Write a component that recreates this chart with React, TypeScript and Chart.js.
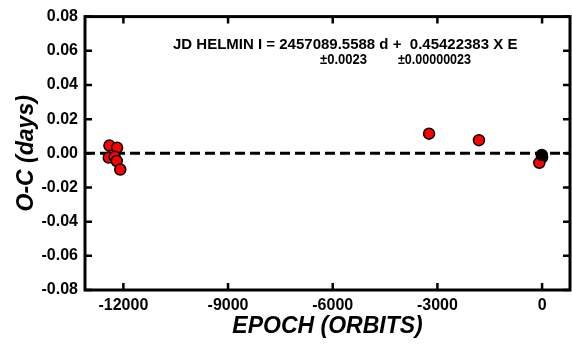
import React, { useEffect, useRef } from "react";
import { Chart, registerables } from "chart.js";

Chart.register(...registerables);

const redEpoch = [-12400, -12180, -12420, -12250, -12190, -12090, -3240, -1810, 0, -80];
const redOC = [0.0045, 0.0033, -0.0025, -0.002, -0.0045, -0.0095, 0.0115, 0.0077, -0.0023, -0.0056];
const blackEpoch = [-10];
const blackOC = [-0.001];
const xTicks = [-12000, -9000, -6000, -3000, 0];
const yTicks = [-0.08, -0.06, -0.04, -0.02, 0, 0.02, 0.04, 0.06, 0.08];
const xRange = [-13100, 800];
const yRange = [-0.08, 0.08];
const line1 = "JD HELMIN I = 2457089.5588 d +  0.45422383 X E";
const line2a = "±0.0023";
const line2b = "±0.00000023";
const xTitle = "EPOCH (ORBITS)";
const yTitle = "O-C (days)";

const FONT = "'Liberation Sans', Arial, Helvetica, sans-serif";

const framePlugin = {
  id: "frame",
  afterDatasetsDraw(chart: any) {
    const { ctx, chartArea: a, scales } = chart;
    ctx.save();
    ctx.strokeStyle = "#000";
    ctx.lineWidth = 3;
    ctx.strokeRect(a.left, a.top, a.right - a.left, a.bottom - a.top);
    ctx.lineWidth = 2.5;
    const tl = 7;
    ctx.beginPath();
    for (const v of xTicks) {
      const px = scales.x.getPixelForValue(v);
      ctx.moveTo(px, a.bottom);
      ctx.lineTo(px, a.bottom - tl);
      ctx.moveTo(px, a.top);
      ctx.lineTo(px, a.top + tl);
    }
    for (const v of yTicks) {
      const py = scales.y.getPixelForValue(v);
      ctx.moveTo(a.left, py);
      ctx.lineTo(a.left + tl, py);
      ctx.moveTo(a.right, py);
      ctx.lineTo(a.right - tl, py);
    }
    ctx.stroke();
    ctx.fillStyle = "#000";
    // x tick labels
    ctx.font = `bold 16px ${FONT}`;
    ctx.textAlign = "center";
    ctx.textBaseline = "middle";
    for (const v of xTicks) {
      ctx.fillText(String(v), scales.x.getPixelForValue(v), a.bottom + 15.5);
    }
    // annotation
    ctx.textBaseline = "alphabetic";
    ctx.textAlign = "left";
    ctx.font = `bold 15px ${FONT}`;
    ctx.fillText(line1, a.left + 88, a.top + 32, 345);
    ctx.font = `bold 14.5px ${FONT}`;
    ctx.fillText(line2a, a.left + 235, a.top + 47, 47);
    ctx.fillText(line2b, a.left + 313, a.top + 47, 73);
    ctx.restore();
  },
};

export default function App() {
  const ref = useRef<HTMLCanvasElement>(null);
  useEffect(() => {
    if (!ref.current) return;
    const chart = new Chart(ref.current, {
      type: "scatter",
      data: {
        datasets: [
          {
            data: blackEpoch.map((x, i) => ({ x, y: blackOC[i] })),
            backgroundColor: "#000",
            borderColor: "#000",
            borderWidth: 1.5,
            pointRadius: 5.5,
          },
          {
            data: redEpoch.map((x, i) => ({ x, y: redOC[i] })),
            backgroundColor: "#ff0000",
            borderColor: "#000",
            borderWidth: 1.5,
            pointRadius: 5.5,
          },
          {
            type: "line",
            data: [
              { x: xRange[0], y: 0 },
              { x: xRange[1], y: 0 },
            ],
            borderColor: "#000",
            borderWidth: 3,
            borderDash: [10, 5],
            pointRadius: 0,
            showLine: true,
          } as any,
        ],
      },
      options: {
        animation: false,
        responsive: false,
        maintainAspectRatio: false,
        layout: { autoPadding: false, padding: { left: 0, right: 2, top: 15, bottom: 0 } },
        plugins: { legend: { display: false }, tooltip: { enabled: false } },
        scales: {
          x: {
            type: "linear",
            min: xRange[0],
            max: xRange[1],
            grid: { display: false, drawTicks: false },
            border: { display: false },
            afterBuildTicks: (s: any) => {
              s.ticks = xTicks.map((v) => ({ value: v }));
            },
            afterFit: (s: any) => {
              s.height = 55;
            },
            ticks: { display: false },
            title: {
              display: true,
              text: xTitle,
              color: "#000",
              padding: { top: 0, bottom: 5 },
              font: { family: FONT, size: 23, weight: "bold", style: "italic" },
            },
          },
          y: {
            type: "linear",
            min: yRange[0],
            max: yRange[1],
            grid: { display: false, drawTicks: false },
            border: { display: false },
            afterBuildTicks: (s: any) => {
              s.ticks = yTicks.map((v) => ({ value: v }));
            },
            afterFit: (s: any) => {
              s.width = 85;
            },
            ticks: {
              color: "#000",
              padding: 7,
              font: { family: FONT, size: 16, weight: "bold" },
              callback: (v: any) => Number(v).toFixed(2),
            },
            title: {
              display: true,
              text: yTitle,
              color: "#000",
              padding: { top: 13, bottom: 0 },
              font: { family: FONT, size: 23, weight: "bold", style: "italic" },
            },
          },
        },
      },
      plugins: [framePlugin],
    } as any);
    return () => chart.destroy();
  }, []);
  return (
    <div style={{ position: "fixed", left: 0, top: 0, width: 572, height: 345, background: "#fff" }}>
      <canvas ref={ref} width={572} height={345} style={{ width: 572, height: 345 }} />
    </div>
  );
}
